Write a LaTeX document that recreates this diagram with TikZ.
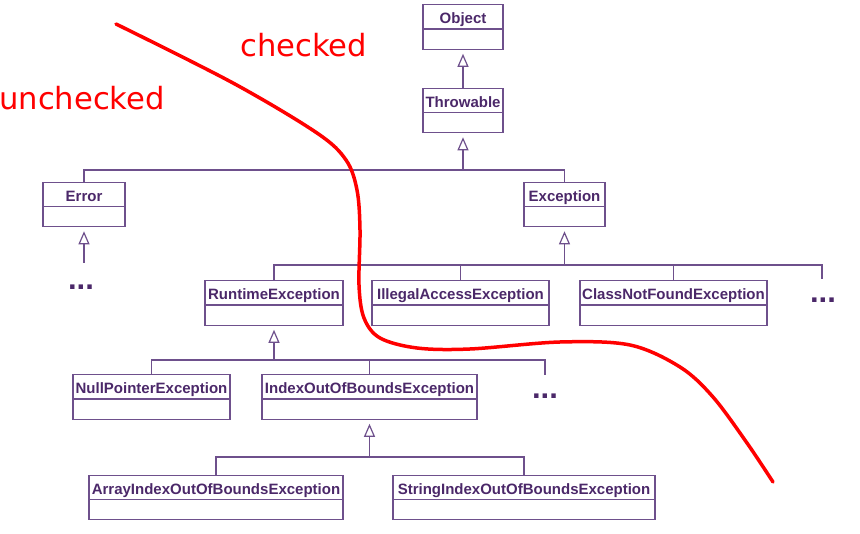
\documentclass[tikz,border=0pt]{standalone}
\usepackage{fontspec}
\setmainfont{Liberation Sans}
\newfontfamily\labelfont{DejaVu Sans}
\usetikzlibrary{arrows.meta,shapes.multipart}
\definecolor{umlline}{RGB}{110,80,140}
\definecolor{umltext}{RGB}{75,40,105}

\begin{document}
\begin{tikzpicture}[x=1pt, y=-1pt,
  classbox/.style={draw=umlline, line width=1.2pt, rectangle split, rectangle split parts=2,
    rectangle split empty part height=16.5pt, inner xsep=2pt, inner ysep=1.25pt,
    font=\fontsize{15}{15}\selectfont\bfseries, text=umltext,
    execute at begin node={\rule[-3.5pt]{0pt}{20.5pt}}},
  conn/.style={draw=umlline, line width=1.2pt},
  inherit/.style={conn, -{Triangle[open, length=13pt, width=11pt]}, shorten >=4pt},
  dots/.style={font=\fontsize{31}{31}\selectfont\bfseries, text=umltext, anchor=base, inner sep=0pt},
  lbl/.style={font=\labelfont\fontsize{30.6}{30.6}\selectfont, text=red, inner sep=0pt, anchor=base west}]

\useasboundingbox (0,0) rectangle (860,534);

\node[classbox, minimum width=80pt] (object) at (463,27) {Object};
\node[classbox, minimum width=80pt] (throwable) at (463,110.5) {Throwable};
\node[classbox, minimum width=82pt] (error) at (84,204.5) {Error};
\node[classbox, minimum width=81pt] (exception) at (564.5,204.5) {Exception};
\node[classbox, minimum width=138pt] (runtime) at (274,303) {RuntimeException};
\node[classbox, minimum width=177pt] (illegal) at (460.5,303) {IllegalAccessException};
\node[classbox, minimum width=187pt] (classnf) at (673.5,303) {ClassNotFoundException};
\node[classbox, minimum width=157pt] (nullptr) at (151.5,397) {NullPointerException};
\node[classbox, minimum width=215pt] (ioob) at (369.5,397) {IndexOutOfBoundsException};
\node[classbox, minimum width=254pt] (arrayioob) at (216,497.5) {ArrayIndexOutOfBoundsException};
\node[classbox, minimum width=262pt] (stringioob) at (524,497.5) {StringIndexOutOfBoundsException};

\node[dots] (moreerr) at (81,290) {...};
\node[dots] (moreexc) at (823,303) {...};
\node[dots] (morert) at (545,399) {...};

\coordinate (j1) at (463,170);
\coordinate (j2) at (564.5,265);
\coordinate (j3) at (274,360);
\coordinate (j4) at (369.5,457);
\coordinate (e1) at (84,263);
\coordinate (m2) at (822,279);
\coordinate (m3) at (545,375);

\draw[inherit] (throwable.north) -- (object.south);
\draw[inherit] (j1) -- (throwable.south);
\draw[conn] (error.north) |- (j1) -| (exception.north);
\draw[inherit] (e1) -- (error.south);

\draw[inherit] (j2) -- (exception.south);
\draw[conn] (runtime.north) |- (j2) -| (m2);
\draw[conn] (illegal.north) -- (illegal.north |- j2);
\draw[conn] (classnf.north) -- (classnf.north |- j2);

\draw[inherit] (j3) -- (runtime.south);
\draw[conn] (nullptr.north) |- (j3) -| (m3);
\draw[conn] (ioob.north) -- (ioob.north |- j3);

\draw[inherit] (j4) -- (ioob.south);
\draw[conn] (arrayioob.north) |- (j4) -| (stringioob.north);

\draw[red, line width=3.5pt, line cap=round] plot[smooth, tension=0.55] coordinates {(116,24) (233,83) (317,133) (346,160) (357,190) (360,230) (359,285) (364,318) (380,338) (417,348) (470,349) (560,342) (630,345) (680,367) (713,397) (747,443) (773,482)};

\node[lbl] (checked) at (240,57) {checked};
\node[lbl] (unchecked) at (-1,110) {unchecked};

\end{tikzpicture}
\end{document}
